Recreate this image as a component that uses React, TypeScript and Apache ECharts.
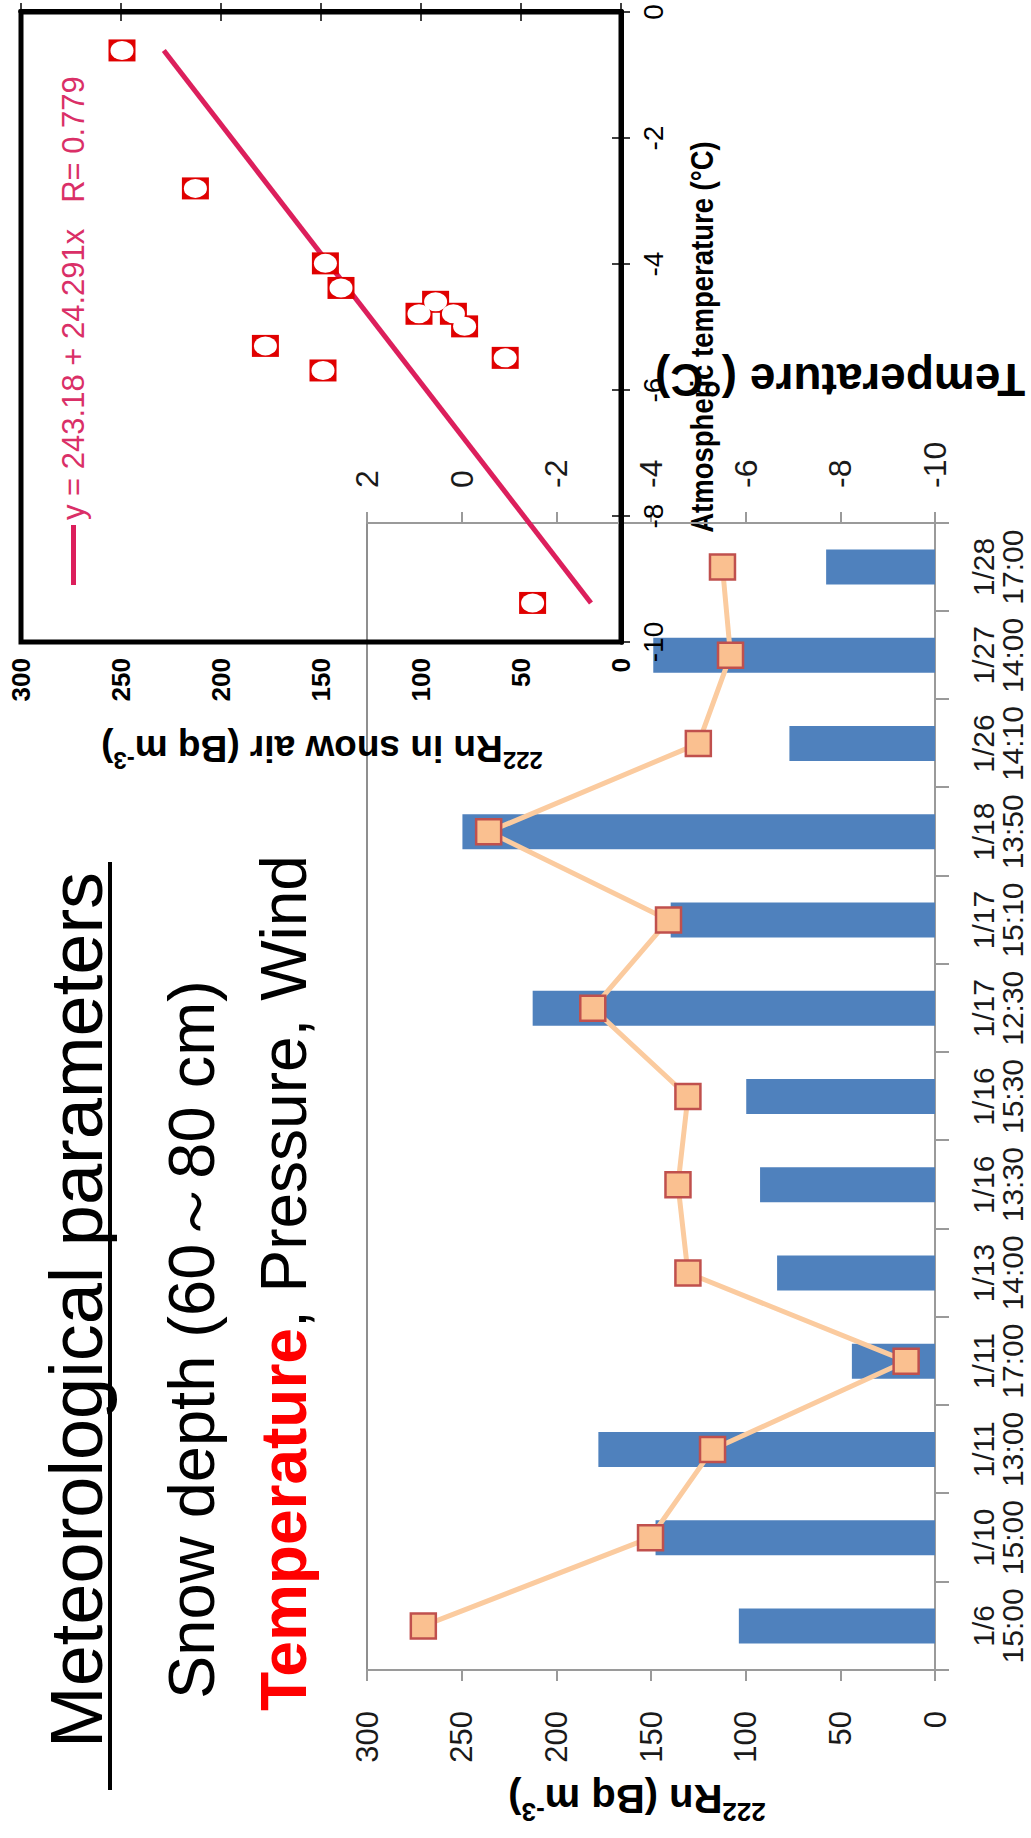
import React, { useEffect, useRef } from 'react';
import * as echarts from 'echarts';

const FONT = '"Liberation Sans", Arial, Helvetica, sans-serif';

// ---- main chart data (bars = 222Rn, line = temperature) ----
const categories = ['1/6', '1/10', '1/11', '1/11', '1/13', '1/16', '1/16', '1/17', '1/17', '1/18', '1/26', '1/27', '1/28'];
const times = ['15:00', '15:00', '13:00', '17:00', '14:00', '13:30', '15:30', '12:30', '15:10', '13:50', '14:10', '14:00', '17:00'];
const rnValues = [103.6, 147.6, 177.8, 43.9, 83.4, 92.4, 99.7, 212.5, 139.6, 249.6, 76.9, 148.8, 57.5];
const tempValues = [0.81, -3.99, -5.3, -9.39, -4.78, -4.57, -4.78, -2.77, -4.37, -0.57, -5.0, -5.68, -5.51];

// ---- scatter data (x = atmospheric temperature, y = 222Rn in snow air) ----
const scatterTemp = [-0.61, -2.8, -3.99, -4.38, -4.6, -4.79, -4.79, -4.99, -5.3, -5.69, -5.49, -9.38];
const scatterRn = [249.5, 212.8, 147.8, 140.0, 92.7, 101.0, 83.8, 78.2, 177.8, 149.0, 57.9, 44.2];
const fitTemp = [-9.38, -0.61];
const fitRn = [15.0, 228.6];
const fitLabel = 'y = 243.18 + 24.291x   R= 0.779';

const ELLIPSE = 'path://M0,50 A50,50 0 1,1 100,50 A50,50 0 1,1 0,50 Z';

const gray = '#9a9a9a';

function buildOption() {
  const catLabels = categories.map((c, i) => c + '\n' + times[i]);
  const scatterPairs = scatterTemp.map((t, i) => [t, scatterRn[i]]);
  const fitPairs = fitTemp.map((t, i) => [t, fitRn[i]]);

  const boxLine = { show: true, lineStyle: { color: '#000', width: 5 } };
  const boxTick = { show: true, inside: true, length: 9, lineStyle: { color: '#000', width: 1.5 } };

  return {
    animation: false,
    backgroundColor: '#ffffff',
    textStyle: { fontFamily: FONT },
    grid: [
      {
        left: 168, top: 367, width: 1147, height: 568,
        outerBoundsMode: 'none', containLabel: false,
        show: true, borderColor: '#6b6b6b', borderWidth: 1.5, backgroundColor: 'transparent',
      },
      {
        left: 1196, top: 21, width: 630, height: 600,
        outerBoundsMode: 'none', containLabel: false,
        show: true, borderColor: '#000', borderWidth: 5, backgroundColor: 'transparent',
      },
    ],
    legend: {
      data: [fitLabel],
      left: 1253,
      top: 58,
      padding: 0,
      itemWidth: 60,
      itemHeight: 5,
      icon: 'rect',
      selectedMode: false,
      textStyle: { fontSize: 31, color: '#DA2F67', fontFamily: FONT },
    },
    xAxis: [
      {
        type: 'category',
        gridIndex: 0,
        data: catLabels,
        axisLine: { show: true, lineStyle: { color: gray, width: 2 } },
        axisTick: { show: true, length: 14, lineStyle: { color: gray, width: 2 } },
        axisLabel: {
          interval: 0,
          margin: 34,
          color: '#1a1a1a',
          fontFamily: FONT,
          fontSize: 30,
          formatter: (v: string) => v.split('\n').map((s) => '{a|' + s + '}').join('\n'),
          rich: { a: { fontSize: 30, lineHeight: 29, color: '#1a1a1a', fontFamily: FONT } },
        },
        splitLine: { show: false },
      },
      {
        type: 'value',
        gridIndex: 1,
        position: 'bottom',
        min: -10,
        max: 0,
        interval: 2,
        z: 10,
        axisLine: boxLine,
        axisTick: boxTick,
        axisLabel: { fontSize: 28, margin: 18, color: '#000', fontFamily: FONT },
        splitLine: { show: false },
      },
      {
        type: 'value',
        gridIndex: 1,
        position: 'top',
        min: -10,
        max: 0,
        interval: 2,
        z: 10,
        axisLine: boxLine,
        axisTick: boxTick,
        axisLabel: { show: false },
        splitLine: { show: false },
      },
    ],
    yAxis: [
      {
        type: 'value',
        gridIndex: 0,
        position: 'left',
        min: 0,
        max: 300,
        interval: 50,
        axisLine: { show: true, lineStyle: { color: gray, width: 2 } },
        axisTick: { show: true, length: 11, lineStyle: { color: gray, width: 2 } },
        axisLabel: { fontSize: 31, margin: 41, color: '#1a1a1a', fontFamily: FONT },
        splitLine: { show: false },
      },
      {
        type: 'value',
        gridIndex: 0,
        position: 'right',
        min: -10,
        max: 2,
        interval: 2,
        axisLine: { show: true, lineStyle: { color: gray, width: 2 } },
        axisTick: { show: true, length: 11, lineStyle: { color: gray, width: 2 } },
        axisLabel: { fontSize: 32, margin: 35, color: '#1a1a1a', fontFamily: FONT },
        splitLine: { show: false },
      },
      {
        type: 'value',
        gridIndex: 1,
        position: 'left',
        min: 0,
        max: 300,
        interval: 50,
        z: 10,
        axisLine: boxLine,
        axisTick: boxTick,
        axisLabel: { fontSize: 26, fontWeight: 'bold', margin: 16, color: '#000', fontFamily: FONT },
        splitLine: { show: false },
      },
      {
        type: 'value',
        gridIndex: 1,
        position: 'right',
        min: 0,
        max: 300,
        interval: 50,
        z: 10,
        axisLine: boxLine,
        axisTick: boxTick,
        axisLabel: { show: false },
        splitLine: { show: false },
      },
    ],
    series: [
      {
        name: '222Rn',
        type: 'bar',
        xAxisIndex: 0,
        yAxisIndex: 0,
        data: rnValues,
        barWidth: 35,
        itemStyle: { color: '#4F81BD' },
        z: 2,
      },
      {
        name: 'Temperature',
        type: 'line',
        xAxisIndex: 0,
        yAxisIndex: 1,
        data: tempValues,
        symbol: 'rect',
        symbolSize: 25,
        lineStyle: { color: '#FBCB9F', width: 5 },
        itemStyle: { color: '#FAC090', borderColor: '#C0504D', borderWidth: 2.5, opacity: 1 },
        z: 3,
      },
      {
        name: fitLabel,
        type: 'line',
        xAxisIndex: 1,
        yAxisIndex: 2,
        data: fitPairs,
        symbol: 'none',
        lineStyle: { color: '#DC1F5C', width: 5 },
        itemStyle: { color: '#DC1F5C' },
        z: 2,
      },
      {
        name: 'points',
        type: 'scatter',
        xAxisIndex: 1,
        yAxisIndex: 2,
        data: scatterPairs,
        symbol: 'rect',
        symbolSize: [22, 27],
        itemStyle: { color: '#E00000', opacity: 1 },
        z: 3,
      },
      {
        name: 'points-inner',
        type: 'scatter',
        xAxisIndex: 1,
        yAxisIndex: 2,
        data: scatterPairs,
        symbol: ELLIPSE,
        symbolSize: [19, 23],
        itemStyle: { color: '#ffffff', opacity: 1 },
        z: 4,
      },
    ],
    graphic: [
      {
        type: 'text',
        x: 90,
        y: 76,
        style: { text: 'Meteorological parameters', fontSize: 74, fontFamily: FONT, fill: '#000', align: 'left', verticalAlign: 'middle' },
      },
      {
        type: 'line',
        shape: { x1: 48, y1: 110, x2: 976, y2: 110 },
        style: { stroke: '#000', lineWidth: 4 },
      },
      {
        type: 'text',
        x: 139,
        y: 191,
        style: { text: 'Snow depth (60～80 cm)', fontSize: 65, fontFamily: FONT, fill: '#000', align: 'left', verticalAlign: 'middle' },
      },
      {
        type: 'text',
        x: 127,
        y: 284,
        style: {
          text: '{t|Temperature}{p|, Pressure, Wind}',
          fontSize: 64,
          fontFamily: FONT,
          align: 'left',
          verticalAlign: 'middle',
          rich: {
            t: { fontSize: 64, fontWeight: 'bold', fill: '#FF0000', color: '#FF0000', fontFamily: FONT },
            p: { fontSize: 64, fill: '#000', color: '#000', fontFamily: FONT },
          },
        },
      },
      {
        type: 'text',
        x: 39,
        y: 637,
        rotation: Math.PI / 2,
        style: {
          text: '{s|222}{m|Rn (Bq m}{s|-3}{m|)}',
          fontSize: 40,
          fontWeight: 'bold',
          fontFamily: FONT,
          align: 'center',
          verticalAlign: 'middle',
          rich: {
            m: { fontSize: 40, fontWeight: 'bold', lineHeight: 52, fill: '#000', color: '#000', fontFamily: FONT },
            s: { fontSize: 26, fontWeight: 'bold', lineHeight: 26, verticalAlign: 'top', fill: '#000', color: '#000', fontFamily: FONT },
          },
        },
      },
      {
        type: 'text',
        x: 1458,
        y: 840,
        rotation: Math.PI / 2,
        style: { text: 'Temperature (°C)', fontSize: 46, fontWeight: 'bold', fontFamily: FONT, fill: '#000', align: 'center', verticalAlign: 'middle' },
      },
      {
        type: 'text',
        x: 1090,
        y: 322,
        rotation: Math.PI / 2,
        style: {
          text: '{s|222}{m|Rn in snow air (Bq m}{s|-3}{m|)}',
          fontSize: 37,
          fontWeight: 'bold',
          fontFamily: FONT,
          align: 'center',
          verticalAlign: 'middle',
          rich: {
            m: { fontSize: 37, fontWeight: 'bold', lineHeight: 48, fill: '#000', color: '#000', fontFamily: FONT },
            s: { fontSize: 24, fontWeight: 'bold', lineHeight: 24, verticalAlign: 'top', fill: '#000', color: '#000', fontFamily: FONT },
          },
        },
      },
      {
        type: 'text',
        x: 1501,
        y: 702,
        scaleX: 0.86,
        style: { text: 'Atmospheric temperature (°C)', fontSize: 32, fontWeight: 'bold', fontFamily: FONT, fill: '#000', align: 'center', verticalAlign: 'middle' },
      },
    ],
  };
}

export default function App() {
  const ref = useRef<HTMLDivElement>(null);
  useEffect(() => {
    document.body.style.margin = '0';
    const chart = echarts.init(ref.current as HTMLDivElement, null, { renderer: 'svg' });
    chart.setOption(buildOption() as any);
    return () => chart.dispose();
  }, []);
  return (
    <div style={{ position: 'absolute', left: 0, top: 0, width: 1031, height: 1838, overflow: 'hidden', background: '#fff' }}>
      <div
        ref={ref}
        style={{
          position: 'absolute',
          left: 0,
          top: 0,
          width: 1838,
          height: 1031,
          transformOrigin: '0 0',
          transform: 'translate(0px, 1838px) rotate(-90deg)',
        }}
      />
    </div>
  );
}
